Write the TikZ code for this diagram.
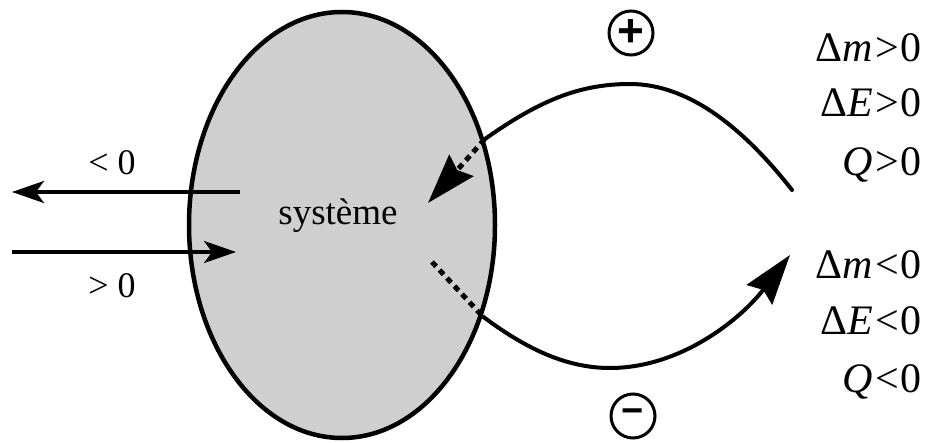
\documentclass[tikz,border=0pt]{standalone}
\usepackage{fontspec}
\setmainfont{Liberation Serif}
\newfontfamily\symfont{Liberation Sans}
\usetikzlibrary{shapes.geometric,arrows.meta}
\begin{document}
\begin{tikzpicture}[x=1pt,y=-1pt,
  lbl/.style={inner sep=0pt,font=\fontsize{42}{48}\selectfont,anchor=base east},
  sgn/.style={inner sep=0pt,font=\fontsize{36}{42}\selectfont,anchor=base},
  signc/.style={circle,draw,line width=3pt,minimum size=44pt,inner sep=0pt,font=\symfont\bfseries\fontsize{46}{50}\selectfont},
  big/.style={-{Stealth[length=50pt,width=32pt,inset=6pt]}},
  small/.style={-{Stealth[length=32pt,width=22pt,inset=8pt]}},
  arc/.style={line width=4pt},
  dots/.style={line width=5pt,dash pattern=on 6pt off 5pt}
]
\useasboundingbox (0,0) rectangle (926,443);
% system
\node[draw,ellipse,fill=black!19,line width=4.5pt,minimum width=306pt,minimum height=426pt] (sys) at (342,225) {};
\node[inner sep=0pt,font=\fontsize{37}{42}\selectfont,anchor=base] (name) at (338,225) {système};
% left arrows
\coordinate (l1s) at (240,192);
\coordinate (l1e) at (12,192);
\coordinate (l2s) at (12,252);
\coordinate (l2e) at (236,252);
\draw[small,line width=3.5pt] (l1s) -- (l1e);
\draw[small,line width=3.5pt] (l2s) -- (l2e);
\node[sgn] (lt) at (112,175) {<\kern9pt0};
\node[sgn] (lb) at (112,298) {>\kern9pt0};
% upper arc
\coordinate (uend) at (792,190);
\coordinate (utip) at (428,203);
\draw[arc,line cap=round] (sys.31) .. controls (540,100) and (580,84) .. (630,84)
   .. controls (690,84) and (745,130) .. (uend);
\draw[dots,big] (sys.31) -- (utip);
% lower arc
\coordinate (lend) at (790,255);
\coordinate (lds) at (432,262);
\draw[arc,big] (sys.-33) .. controls (530,352) and (570,368) .. (610,368)
   .. controls (680,368) and (740,320) .. (lend);
\draw[dots] (lds) -- (sys.-33);
% signs
\node[signc] (plus) at (631,33) {+};
\node[signc,font=\symfont\bfseries\fontsize{38}{44}\selectfont] (minus) at (633,416) {−};
% right labels
\node[lbl] (r1) at (922,62) {Δ\textit{m}\kern2pt>\kern2pt0};
\node[lbl] (r2) at (922,117) {Δ\textit{E}\kern2pt>\kern2pt0};
\node[lbl] (r3) at (922,176) {\textit{Q}\kern2pt>\kern2pt0};
\node[lbl] (r4) at (922,279) {Δ\textit{m}\kern2pt<\kern2pt0};
\node[lbl] (r5) at (922,335) {Δ\textit{E}\kern2pt<\kern2pt0};
\node[lbl] (r6) at (922,392) {\textit{Q}\kern2pt<\kern2pt0};
\end{tikzpicture}
\end{document}
